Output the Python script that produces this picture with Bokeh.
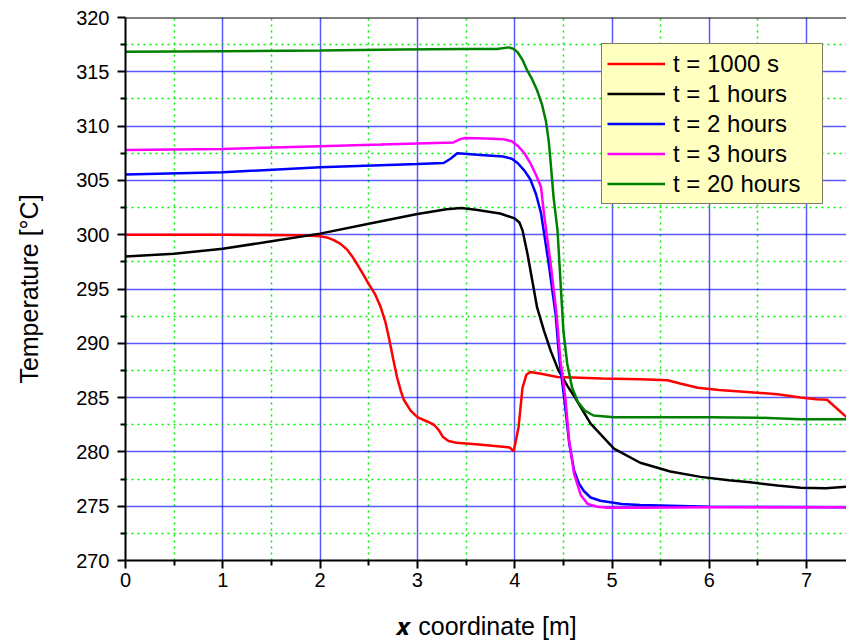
from bokeh.plotting import figure
from bokeh.models import Range1d, FixedTicker, Legend, LegendItem, Span
from bokeh.embed import file_html
from bokeh.resources import INLINE

# ---- data ----
x_red = [0, 1.0, 1.8, 2.0, 2.07, 2.14, 2.21, 2.28, 2.33, 2.38, 2.44, 2.49, 2.56, 2.62, 2.67, 2.71,
         2.75, 2.79, 2.83, 2.86, 2.93, 3.0, 3.1, 3.17, 3.22, 3.26, 3.32, 3.4, 3.6, 3.85, 3.95, 3.99,
         4.04, 4.08, 4.12, 4.16, 4.27, 4.44, 4.9, 5.29, 5.57, 5.7, 5.88, 6.1, 6.42, 6.7, 6.94,
         7.1, 7.21, 7.41]
t_red = [300, 300, 299.95, 299.85, 299.75, 299.5, 299.15, 298.6, 298.0, 297.3, 296.4, 295.6, 294.6,
         293.4, 292.0, 290.4, 288.6, 286.9, 285.6, 284.8, 283.8, 283.2, 282.8, 282.5, 282.0,
         281.4, 281.0, 280.85, 280.7, 280.5, 280.4, 280.05, 282.3, 285.9, 287.1, 287.35, 287.2,
         286.9, 286.75, 286.7, 286.6, 286.3, 285.9, 285.7, 285.5, 285.3, 285.0, 284.85, 284.8,
         283.2]

x_1h = [0, 0.5, 1.0, 1.5, 2.0, 2.5, 3.0, 3.3, 3.45, 3.6, 3.85, 4.0, 4.05, 4.08, 4.13, 4.18, 4.23,
        4.30, 4.37, 4.45, 4.54, 4.62, 4.78, 5.02, 5.29, 5.6, 5.91, 6.2, 6.42, 6.7, 6.94, 7.2, 7.41]
t_1h = [298.0, 298.25, 298.7, 299.4, 300.1, 301.0, 301.9, 302.35, 302.45, 302.3, 301.95, 301.5,
        301.1, 300.4, 298.3, 295.8, 293.3, 291.2, 289.3, 287.5, 286.1, 285.0, 282.6, 280.3, 279.0,
        278.2, 277.7, 277.4, 277.2, 276.9, 276.7, 276.65, 276.8]

x_2h = [0, 1, 2, 2.62, 3.0, 3.27, 3.34, 3.41, 3.65, 3.88, 3.97, 4.03, 4.1, 4.16, 4.22, 4.27, 4.35,
        4.42, 4.46, 4.50, 4.53, 4.56, 4.61, 4.66, 4.71, 4.78, 4.88, 5.1, 5.29, 6.0, 7.41]
t_2h = [305.55, 305.75, 306.2, 306.4, 306.5, 306.6, 307.0, 307.5, 307.35, 307.2, 307.0, 306.6,
        305.9, 305.1, 303.7, 302.0, 297.3, 292.7, 288.4, 285.6, 283.3, 280.8, 278.3, 277.1, 276.4,
        275.8, 275.5, 275.2, 275.1, 274.95, 274.9]

x_3h = [0, 1, 2, 2.62, 3.0, 3.37, 3.44, 3.49, 3.7, 3.88, 3.97, 4.03, 4.1, 4.16, 4.22, 4.27, 4.30,
        4.37, 4.43, 4.47, 4.52, 4.56, 4.61, 4.68, 4.75, 4.85, 4.95, 5.2, 6.0, 7.41]
t_3h = [307.8, 307.9, 308.15, 308.3, 308.4, 308.5, 308.8, 308.9, 308.85, 308.8, 308.6, 308.2,
        307.5, 306.6, 305.5, 304.4, 302.0, 297.3, 292.7, 288.4, 285.0, 281.0, 278.0, 276.0, 275.2,
        274.95, 274.85, 274.85, 274.9, 274.9]

x_20h = [0, 1, 2, 2.83, 3.5, 3.82, 3.94, 3.99, 4.03, 4.08, 4.13, 4.18, 4.23, 4.28, 4.32, 4.35,
         4.37, 4.40, 4.44, 4.47, 4.50, 4.54, 4.59, 4.65, 4.72, 4.81, 5.02, 6.0, 6.5, 6.94, 7.41]
t_20h = [316.85, 316.9, 316.95, 317.05, 317.1, 317.1, 317.25, 317.1, 316.8, 316.1, 315.1, 314.3,
         313.3, 312.0, 310.5, 308.6, 306.6, 303.4, 300.4, 295.8, 291.2, 288.1, 285.9, 284.6,
         283.8, 283.35, 283.2, 283.2, 283.15, 283.0, 283.0]

series_labels = ["t = 1000 s", "t = 1 hours", "t = 2 hours", "t = 3 hours", "t = 20 hours"]
series_colors = ["#ff0000", "#000000", "#0000ff", "#ff00ff", "#008000"]
series_x = [x_red, x_1h, x_2h, x_3h, x_20h]
series_t = [t_red, t_1h, t_2h, t_3h, t_20h]

x_ticks = [0, 1, 2, 3, 4, 5, 6, 7]
x_minor = [0.5, 1.5, 2.5, 3.5, 4.5, 5.5, 6.5, 7.5]
y_ticks = [270, 275, 280, 285, 290, 295, 300, 305, 310, 315, 320]
y_minor = [272.5, 277.5, 282.5, 287.5, 292.5, 297.5, 302.5, 307.5, 312.5, 317.5]

x_title = "\U0001D499 coordinate [m]"
y_title = "Temperature [°C]"

FONT = "Liberation Sans"

p = figure(width=846, height=643, output_backend="svg", toolbar_location=None,
           x_range=Range1d(0, 7.41), y_range=Range1d(270, 320),
           min_border_left=125, min_border_top=17, min_border_bottom=83, min_border_right=0)
p.outline_line_color = None
p.background_fill_color = "white"
p.border_fill_color = "white"

# axes
for ax in (p.xaxis[0], p.yaxis[0]):
    ax.axis_line_color = "black"
    ax.axis_line_width = 2
    ax.major_tick_line_color = "black"
    ax.major_tick_line_width = 2
    ax.minor_tick_line_color = "black"
    ax.minor_tick_line_width = 2
    ax.major_tick_in = 0
    ax.major_tick_out = 8
    ax.minor_tick_in = 0
    ax.minor_tick_out = 5
    ax.major_label_text_font = FONT
    ax.major_label_text_font_size = "20px"
    ax.major_label_text_color = "black"
    ax.axis_label_text_font = FONT
    ax.axis_label_text_font_style = "normal"
    ax.axis_label_text_font_size = "25px"
    ax.axis_label_text_color = "black"

p.xaxis[0].ticker = FixedTicker(ticks=x_ticks, minor_ticks=x_minor)
p.yaxis[0].ticker = FixedTicker(ticks=y_ticks, minor_ticks=y_minor)
p.xaxis[0].major_label_standoff = 4
p.yaxis[0].major_label_standoff = 8
p.yaxis[0].axis_label = y_title
p.yaxis[0].axis_label_standoff = 30
p.xaxis[0].axis_label = x_title
p.xaxis[0].axis_label_standoff = 22

# grids
for g in (p.xgrid[0], p.ygrid[0]):
    g.grid_line_color = "#0000ff"
    g.grid_line_alpha = 0.65
    g.grid_line_width = 1.5
    g.minor_grid_line_color = "#00ee00"
    g.minor_grid_line_dash = "2 4"
    g.minor_grid_line_width = 1.5
p.xgrid[0].ticker = FixedTicker(ticks=x_ticks, minor_ticks=x_minor)
p.ygrid[0].ticker = FixedTicker(ticks=y_ticks, minor_ticks=y_minor)

# top border
p.add_layout(Span(location=320, dimension="width", line_color="black", line_width=2))

# curves
items = []
for xs, ts, col, lab in zip(series_x, series_t, series_colors, series_labels):
    r = p.line(xs, ts, line_color=col, line_width=2.5)
    items.append(LegendItem(label=lab, renderers=[r]))

legend = Legend(items=items, location=(476, 356),
                label_text_font=FONT, label_text_font_size="24px", label_text_color="black",
                glyph_width=58, glyph_height=29, label_height=29, spacing=1, padding=5,
                label_standoff=8, label_width=144, margin=0,
                border_line_color="black", border_line_width=1.5,
                background_fill_color="#ffffc0", background_fill_alpha=1.0)
p.add_layout(legend)

open("out.html", "w").write(file_html(p, INLINE))
